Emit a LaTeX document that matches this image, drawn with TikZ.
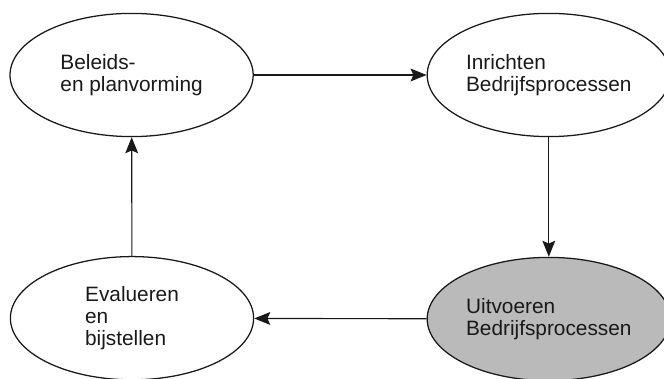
\documentclass[tikz,border=0pt]{standalone}
\usepackage{fontspec}
\setmainfont{Liberation Sans}
\usetikzlibrary{arrows.meta,shapes.geometric}

\begin{document}
\begin{tikzpicture}
[>={Stealth[length=0.4cm,width=0.32cm,inset=0.07cm]},
proces/.style={ellipse, draw=black!90, line width=0.9pt,
minimum width=6.08cm, minimum height=3.08cm, inner sep=0pt,
align=left, text=black!90,
font=\fontsize{14.8}{15.8}\selectfont},
gedaan/.style={proces, fill=black!27}]
  \useasboundingbox (0,0) rectangle (16.6,9.475);
  \node [proces] (beleid) at (3.29,7.6) {Beleids-\\en planvorming};
  \node [proces] (inricht) at (13.72,7.6) {Inrichten\\Bedrijfsprocessen};
  \node [gedaan] (uitvoer) at (13.72,1.5) {Uitvoeren\\Bedrijfsprocessen};
  \node [proces] (evalueer) at (3.3,1.52) {Evalueren\\en\\bijstellen};
  \draw [->, line width=0.8pt, black!90] (beleid) -- (inricht);
  \draw [->, line width=0.8pt, black!90] (inricht) -- (uitvoer);
  \draw [->, line width=0.8pt, black!90] (uitvoer) -- (evalueer);
  \draw [->, line width=0.8pt, black!90] (evalueer) -- (beleid);
\end{tikzpicture}
\end{document}
